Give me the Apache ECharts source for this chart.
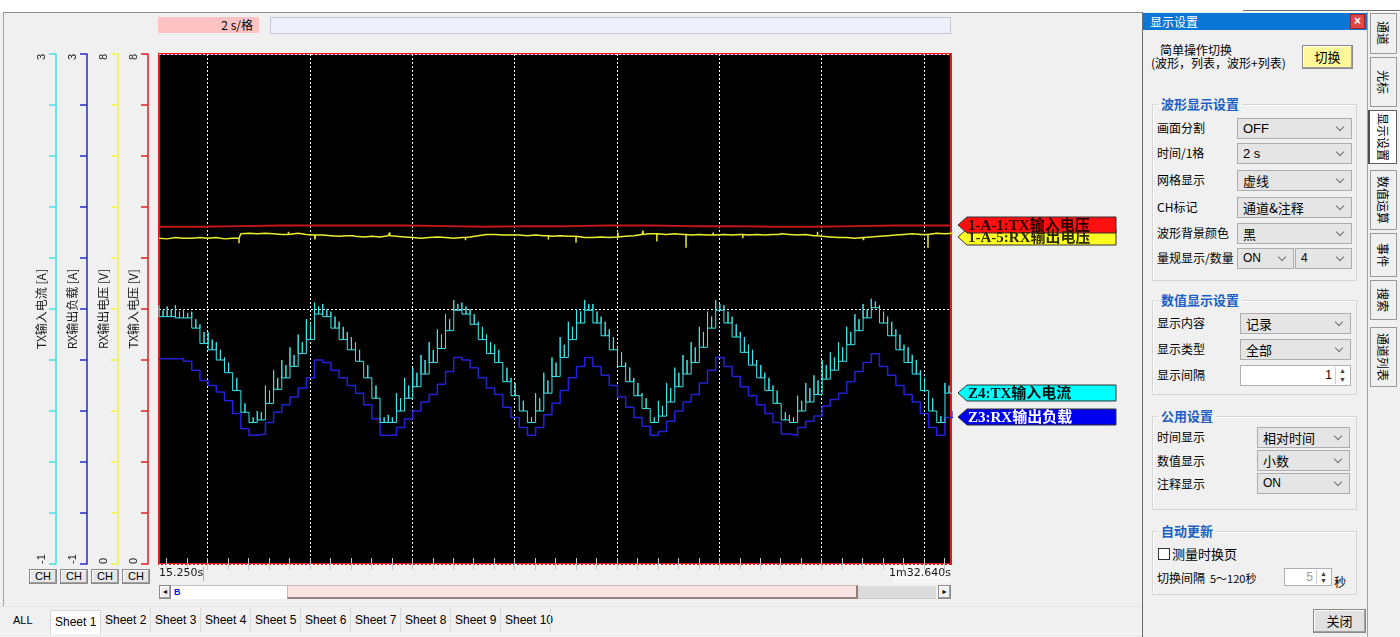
<!DOCTYPE html>
<html><head><meta charset="utf-8">
<script src="https://cdn.jsdelivr.net/npm/echarts@6/dist/echarts.min.js"></script>
<style>
html,body{margin:0;padding:0;width:1400px;height:637px;overflow:hidden;background:#f0f0f0;font-family:"Noto Sans CJK SC","Noto Sans",sans-serif;font-size:12px;color:#000;}
#ui{position:absolute;left:0;top:0;width:1400px;height:637px;}
#chart{position:absolute;left:0;top:0;width:1400px;height:637px;}
.lat{font-family:"Liberation Sans","DejaVu Sans",sans-serif;}
</style></head><body>
<div id="ui"></div>
<div id="chart"></div>
<script>
// ---------------- data ----------------
const timeRange = [15.25, 92.64];            // s, left and right edge of the record view
const gridTimes = [20, 30, 40, 50, 60, 70, 80, 90];
const minorTickTimes = [16,18,20,22,24,26,28,30,32,34,36,38,40,42,44,46,48,50,52,54,56,58,60,62,64,66,68,70,72,74,76,78,80,82,84,86,88,90,92];
const sampleStart = 15.25;                   // s
const sampleStep = 0.8;                      // s per recorded step

const channelNames = ['TX输入电压 [V]', 'RX输出电压 [V]', 'RX输出负载 [A]', 'TX输入电流 [A]'];
const channelTags = ['1-A-1:TX输入电压', '1-A-5:RX输出电压', 'Z3:RX输出负载', 'Z4:TX输入电流'];
const axisRanges = [[0, 8], [0, 8], [-1, 3], [-1, 3]];
const voltTicks = [0, 0.8, 1.6, 2.4, 3.2, 4, 4.8, 5.6, 6.4, 7.2, 8];
const ampTicks = [-1, -0.6, -0.2, 0.2, 0.6, 1, 1.4, 1.8, 2.2, 2.6, 3];

// TX input voltage [V]
const redTimes = [15.25,19.25,23.25,27.25,31.25,35.25,39.25,43.25,47.25,51.25,55.25,59.25,63.25,67.25,71.25,75.25,79.25,83.25,87.25,91.25,92.64];
const redVals  = [5.29,5.29,5.30,5.31,5.31,5.31,5.31,5.30,5.29,5.30,5.30,5.31,5.31,5.30,5.30,5.29,5.29,5.30,5.31,5.31,5.31];

// RX output voltage [V], one value per step
const yellowVals = [
 5.11,5.10,5.12,5.11,5.10,5.12,5.11,5.12,5.10,5.11,
 5.18,5.19,5.18,5.19,5.18,5.17,5.18,5.19,5.17,5.16,
 5.16,5.15,5.14,5.15,5.14,5.13,5.14,5.13,5.15,5.14,
 5.13,5.12,5.11,5.12,5.13,5.12,5.11,5.12,5.13,5.15,
 5.17,5.17,5.16,5.17,5.16,5.15,5.16,5.15,5.14,5.15,
 5.14,5.13,5.12,5.12,5.13,5.12,5.13,5.14,5.15,5.17,
 5.18,5.18,5.17,5.18,5.17,5.16,5.17,5.16,5.16,5.17,
 5.16,5.17,5.16,5.17,5.16,5.17,5.18,5.17,5.16,5.17,
 5.15,5.14,5.13,5.12,5.12,5.11,5.12,5.13,5.14,5.15,
 5.16,5.17,5.18,5.17,5.19,5.19,5.18,5.19];
// RX output voltage glitches [time s, value V]
const yellowSpikes = [[18.4,5.14],[23.07,5.03],[27.9,5.21],[30.5,5.09],[34.2,5.16],[37.8,5.20],[41.7,5.09],[45.2,5.08],[49.6,5.19],[53.3,5.09],[56.0,5.04],[57.4,5.09],[60.1,5.20],[62.55,5.23],[63.9,5.06],[66.75,4.96],[69.4,5.20],[72.3,5.11],[75.8,5.20],[79.6,5.21],[82.4,5.09],[84.1,5.08],[87.3,5.17],[90.39,4.96]];

// RX output load [A], one value per step
const blueVals = [
 0.61,0.61,0.61,0.59,0.52,0.44,0.40,0.35,0.28,0.18,
 0.06,0.01,0.02,0.11,0.19,0.25,0.31,0.38,0.46,0.60,
 0.58,0.52,0.46,0.40,0.34,0.25,0.14,0.01,0.01,0.07,
 0.14,0.20,0.27,0.33,0.41,0.51,0.62,0.60,0.54,0.46,
 0.38,0.33,0.23,0.15,0.07,0.01,0.07,0.17,0.26,0.36,
 0.46,0.55,0.62,0.55,0.48,0.40,0.31,0.23,0.15,0.08,
 0.01,0.04,0.12,0.20,0.27,0.33,0.42,0.52,0.62,0.55,
 0.47,0.39,0.32,0.25,0.18,0.11,0.02,0.01,0.07,0.12,
 0.16,0.24,0.29,0.34,0.43,0.51,0.58,0.65,0.55,0.48,
 0.40,0.33,0.27,0.18,0.07,0.01,0.15,0.20];

// TX input current [A], settled value per step
const cyanVals = [
 0.94,0.94,0.93,0.93,0.85,0.73,0.68,0.60,0.50,0.36,
 0.19,0.11,0.13,0.26,0.37,0.46,0.55,0.65,0.76,0.96,
 0.94,0.85,0.76,0.68,0.59,0.46,0.30,0.11,0.11,0.20,
 0.30,0.39,0.49,0.58,0.69,0.83,0.99,0.96,0.88,0.76,
 0.65,0.58,0.43,0.32,0.20,0.11,0.20,0.34,0.47,0.62,
 0.76,0.89,0.99,0.89,0.79,0.68,0.55,0.43,0.32,0.22,
 0.11,0.16,0.27,0.39,0.49,0.58,0.70,0.85,0.99,0.89,
 0.78,0.66,0.56,0.46,0.36,0.26,0.13,0.11,0.20,0.27,
 0.33,0.45,0.52,0.59,0.72,0.83,0.93,1.01,0.89,0.79,
 0.68,0.58,0.49,0.36,0.20,0.11,0.34,0.40];
// TX input current [A], inrush peak at the start of each step
const cyanSpikeTops = [
 1.03,1.02,1.03,1.00,0.98,0.88,0.82,0.74,0.62,0.50,
 0.30,0.18,0.20,0.40,0.52,0.60,0.70,0.80,0.92,1.05,
 1.04,0.98,0.90,0.82,0.74,0.60,0.44,0.18,0.17,0.34,
 0.46,0.54,0.64,0.74,0.84,0.96,1.07,1.05,1.00,0.90,
 0.80,0.72,0.58,0.46,0.32,0.17,0.34,0.50,0.62,0.78,
 0.90,1.00,1.07,1.04,0.94,0.84,0.70,0.58,0.46,0.34,
 0.17,0.28,0.42,0.54,0.64,0.74,0.86,0.98,1.07,1.03,
 0.94,0.82,0.72,0.60,0.50,0.40,0.22,0.17,0.32,0.42,
 0.48,0.60,0.66,0.74,0.86,0.96,1.04,1.08,1.03,0.94,
 0.84,0.72,0.64,0.52,0.34,0.18,0.42,0.48];
// TX input current [A], second, smaller peak in the middle of each step
const cyanMidTops = [
 0.99,1.00,0.98,0.97,0.92,0.82,0.76,0.68,0.58,0.46,
 0.26,0.15,0.19,0.36,0.46,0.56,0.64,0.74,0.88,1.02,
 1.00,0.94,0.86,0.78,0.68,0.56,0.40,0.15,0.15,0.30,
 0.40,0.50,0.60,0.68,0.80,0.92,1.04,1.02,0.96,0.86,
 0.74,0.68,0.54,0.42,0.28,0.15,0.30,0.44,0.58,0.72,
 0.86,0.98,1.04,0.98,0.90,0.78,0.66,0.54,0.42,0.30,
 0.15,0.24,0.38,0.50,0.60,0.70,0.82,0.94,1.04,0.98,
 0.88,0.78,0.68,0.56,0.46,0.36,0.19,0.15,0.28,0.38,
 0.44,0.56,0.62,0.70,0.82,0.92,1.00,1.06,0.98,0.90,
 0.80,0.70,0.60,0.46,0.30,0.16,0.40,0.46];

// ---------------- UI chrome ----------------
const ui = document.getElementById('ui');
function add(css, text, cls) {
  const d = document.createElement('div');
  d.style.cssText = 'position:absolute;white-space:nowrap;' + css;
  if (cls) d.className = cls;
  if (text != null) d.textContent = text;
  ui.appendChild(d);
  return d;
}
function label(x, yc, text, fs, extra) {
  fs = fs || 12;
  return add(`left:${x}px;top:${yc - fs * 0.75}px;font-size:${fs}px;line-height:${fs * 1.5}px;` + (extra || ''), text);
}
function chevron(parent, h) {
  const c = document.createElement('div');
  c.style.cssText = `position:absolute;right:8px;top:${Math.round(h / 2) - 6}px;width:5px;height:5px;border-right:1px solid #707070;border-bottom:1px solid #707070;transform:rotate(45deg);`;
  parent.appendChild(c);
}
function dropdown(x, y, w, h, text, fs, cls) {
  const d = add(`left:${x}px;top:${y}px;width:${w}px;height:${h}px;box-sizing:border-box;background:#e5e5e5;border:1px solid #adadad;font-size:${fs || 13}px;line-height:${h - 2}px;padding-left:5px;`, text, cls);
  chevron(d, h);
}
function group(x, y, w, h, title) {
  add(`left:${x}px;top:${y}px;width:${w}px;height:${h}px;box-sizing:border-box;border:1px solid #d5d5d5;box-shadow:inset 1px 1px 0 #fff;`);
  add(`left:${x + 6}px;top:${y - 10}px;padding:0 3px;background:#f0f0f0;color:#1b5fc6;font-weight:bold;font-size:13px;line-height:19px;`, title);
}
function button(x, y, w, h, text, bg, fs, cls) {
  return add(`left:${x}px;top:${y}px;width:${w}px;height:${h}px;box-sizing:border-box;background:${bg};border:1px solid #8a8a8a;box-shadow:inset -1px -1px 0 #a0a0a0, inset 1px 1px 0 #fff;text-align:center;font-size:${fs}px;line-height:${h - 2}px;`, text, cls);
}
function spin(x, y, w, h, text, col) {
  const d = add(`left:${x}px;top:${y}px;width:${w}px;height:${h}px;box-sizing:border-box;background:#fff;border:1px solid #b0b0b0;font-size:12px;line-height:${h - 2}px;text-align:right;padding-right:18px;color:${col};`, text, 'lat');
  const s = document.createElement('div');
  s.style.cssText = `position:absolute;right:1px;top:1px;width:13px;height:${h - 4}px;border-left:1px solid #d0d0d0;font-size:7px;line-height:${(h - 4) / 2}px;text-align:center;color:#404040;`;
  s.innerHTML = '▲<br>▼';
  d.appendChild(s);
}

// window frame
add('left:0;top:0;width:1400px;height:12px;background:#fff;');
add('left:3px;top:12px;width:1139px;height:1px;background:#8c8c8c;');
add('left:3px;top:12px;width:1px;height:594px;background:#a0a0a0;');
add('left:1243px;top:10px;width:157px;height:1px;background:#707070;');
// time/div indicator
add('left:158px;top:17px;width:101px;height:16px;box-sizing:border-box;background:#ffc3c3;text-align:right;padding-right:6px;font-size:12px;line-height:16px;', '2 s/格');
add('left:270px;top:17px;width:681px;height:17px;box-sizing:border-box;background:#eef0fb;border:1px solid #c4c6d4;');
// CH buttons
[29, 60, 91, 122].forEach(x => button(x, 569, 28, 15, 'CH', '#e6e6e6', 11, 'lat'));
// time row
add('left:203px;top:567px;width:1px;height:14px;background:#b0b0b0;');
add('left:893px;top:566px;width:58px;height:17px;background:#f6f6f6;');
// scroll bar
button(159, 585, 12, 14, '◂', '#f0f0f0', 8, 'lat');
add('left:171px;top:585px;width:116px;height:14px;background:#fff;border-top:1px solid #c0c0c0;box-sizing:border-box;');
add('left:174px;top:585px;font-size:9px;line-height:14px;color:#1010e0;font-weight:bold;', 'B', 'lat');
add('left:287px;top:585px;width:571px;height:14px;box-sizing:border-box;background:#fde4e4;border:1px solid #d2b4b4;border-right:2px solid #9a7a7a;border-bottom:2px solid #9a8080;');
add('left:858px;top:586px;width:78px;height:12px;background:#dcdcdc;border-bottom:1px solid #c8c8c8;');
button(938, 585, 13, 14, '▸', '#f0f0f0', 8, 'lat');
// sheet tabs
add('left:0;top:606px;width:1142px;height:1px;background:#e6e6e6;');
add('left:0;top:633px;width:1142px;height:1px;background:#fafafa;');
add('left:50px;top:610px;width:51px;height:24px;box-sizing:border-box;background:#fff;border:1px solid #d6d6d6;border-bottom:none;');
label(13, 620, 'ALL', 11, 'font-family:"Liberation Sans",sans-serif;');
label(55, 622, 'Sheet 1', 12, 'font-family:"Liberation Sans",sans-serif;');
for (let n = 2; n <= 10; n++) {
  label(105 + 50 * (n - 2), 620, 'Sheet ' + n, 12, 'font-family:"Liberation Sans",sans-serif;');
  add(`left:${150 + 50 * (n - 2)}px;top:608px;width:1px;height:24px;background:#d8d8d8;`);
}

// right panel
add('left:1142px;top:12px;width:226px;height:625px;box-sizing:border-box;background:#f0f0f0;border-left:1px solid #6e6e6e;border-right:1px solid #a0a0a0;');
add('left:1143px;top:13px;width:224px;height:17px;background:#0a76d6;');
add('left:1150px;top:13px;font-size:12px;line-height:17px;color:#fff;', '显示设置');
add('left:1350px;top:14px;width:15px;height:15px;box-sizing:border-box;background:#e04848;border:1px solid #a02020;color:#fff;font-size:12px;line-height:13px;text-align:center;font-weight:bold;', '×', 'lat');
label(1160, 50, '简单操作切换', 12);
label(1151, 63, '(波形，列表，波形+列表)', 12);
button(1302, 45, 51, 24, '切换', '#fff79a', 13);

group(1152, 104, 205, 177, '波形显示设置');
const waveRows = [['画面分割', 128, 'OFF'], ['时间/1格', 153, '2 s'], ['网格显示', 180, '虚线'], ['CH标记', 207, '通道&注释'], ['波形背景颜色', 233, '黑']];
waveRows.forEach(r => { label(1157, r[1], r[0], 12); dropdown(1237, r[1] - 10, 115, 21, r[2], 13, /^[A-Z0-9 ]/.test(r[2]) ? 'lat' : ''); });
label(1157, 258, '量规显示/数量', 12);
dropdown(1237, 248, 57, 21, 'ON', 12, 'lat');
dropdown(1295, 248, 57, 21, '4', 12, 'lat');

group(1152, 300, 205, 95, '数值显示设置');
label(1157, 323, '显示内容', 12); dropdown(1240, 313, 111, 21, '记录', 13);
label(1157, 349, '显示类型', 12); dropdown(1240, 339, 111, 21, '全部', 13);
label(1157, 375, '显示间隔', 12); spin(1240, 365, 111, 21, '1', '#000');

group(1152, 416, 205, 94, '公用设置');
label(1157, 437, '时间显示', 12); dropdown(1257, 427, 93, 21, '相对时间', 13);
label(1157, 461, '数值显示', 12); dropdown(1257, 450, 93, 21, '小数', 13);
label(1157, 484, '注释显示', 12); dropdown(1257, 473, 93, 21, 'ON', 12, 'lat');

group(1152, 531, 205, 64, '自动更新');
add('left:1158px;top:548px;width:12px;height:12px;box-sizing:border-box;background:#fff;border:1px solid #333;');
label(1172, 554, '测量时换页', 13);
label(1157, 578, '切换间隔', 12);
label(1210, 578, '5～120秒', 11);
spin(1284, 568, 48, 18, '5', '#9a9a9a');
label(1334, 582, '秒', 12);
button(1313, 609, 53, 24, '关闭', '#e1e1e1', 13);

// side tabs
const sideTabs = [['通道', 13, 41], ['光标', 57, 50], ['显示设置', 110, 54], ['数值运算', 170, 60], ['事件', 233, 44], ['搜索', 280, 40], ['通道列表', 327, 60]];
sideTabs.forEach((t, i) => {
  const sel = i === 2;
  add(`left:${sel ? 1368 : 1370}px;top:${t[1]}px;width:${sel ? 29 : 27}px;height:${t[2]}px;box-sizing:border-box;background:${sel ? '#fff' : '#f0f0f0'};border:1px solid ${sel ? '#606060' : '#9a9a9a'};${sel ? 'border-left:2px solid #505050;' : ''}writing-mode:vertical-rl;text-orientation:sideways;font-size:12px;line-height:25px;text-align:center;`, t[0]);
});

// ---------------- chart ----------------
const chart = echarts.init(document.getElementById('chart'), null, { renderer: 'canvas', width: 1400, height: 637 });
const sampleTimes = blueVals.map((_, k) => +(sampleStart + k * sampleStep).toFixed(2));

// red
const redData = redTimes.map((t, i) => [t, redVals[i]]);
// yellow with glitches inserted at their times
const yellowData = [];
{
  let si = 0;
  for (let k = 0; k < yellowVals.length; k++) {
    const t = sampleTimes[k];
    while (si < yellowSpikes.length && yellowSpikes[si][0] < t) {
      const base = yellowVals[Math.max(0, k - 1)];
      yellowData.push([yellowSpikes[si][0], base], [yellowSpikes[si][0], yellowSpikes[si][1]], [yellowSpikes[si][0], base]);
      si++;
    }
    yellowData.push([t, yellowVals[k]]);
  }
}
// blue staircase
const blueData = sampleTimes.map((t, k) => [t, blueVals[k]]);
// cyan staircase with inrush spikes (start of step and mid-step)
const cyanData = [];
for (let k = 0; k < cyanVals.length; k++) {
  const t = sampleTimes[k];
  const tm = +(t + sampleStep / 2).toFixed(2);
  if (k > 0) cyanData.push([t, cyanVals[k - 1]]);
  cyanData.push([t, cyanSpikeTops[k]]);
  cyanData.push([t, cyanVals[k]]);
  cyanData.push([tm, cyanVals[k]]);
  cyanData.push([tm, cyanMidTops[k]]);
  cyanData.push([tm, cyanVals[k]]);
}

const colors = ['#c81616', '#eeee30', '#2222d8', '#3ee8ee'];
const axisLineColors = ['#e41e1e', '#f4f43a', '#2a2ac8', '#46e0e6'];
const offsets = [11, 41, 72, 103];

function fmtTime(v) {
  if (v >= 60) return Math.floor(v / 60) + 'm' + (v - 60 * Math.floor(v / 60)).toFixed(3) + 's';
  return v.toFixed(3) + 's';
}

const yAxes = channelNames.map((name, i) => ({
  type: 'value', position: 'left', offset: offsets[i],
  min: axisRanges[i][0], max: axisRanges[i][1],
  name: name, nameLocation: 'middle', nameRotate: 90, nameGap: 9, nameMoveOverlap: false,
  nameTextStyle: { color: '#1a1a1a', fontSize: 12, fontFamily: '"Noto Sans CJK SC", sans-serif' },
  axisLine: { show: true, onZero: false, lineStyle: { color: axisLineColors[i], width: 1.5 } },
  axisTick: { show: true, inside: false, length: 7, customValues: i < 2 ? voltTicks : ampTicks, lineStyle: { color: axisLineColors[i], width: 1.5 } },
  axisLabel: { show: true, customValues: axisRanges[i], rotate: 90, margin: 9, color: '#1a1a1a', fontSize: 11,
    fontFamily: '"Liberation Sans", sans-serif', alignMinLabel: 'left', alignMaxLabel: 'right' },
  splitLine: { show: false }
}));
yAxes.push({
  type: 'value', position: 'left', offset: 0, min: 0, max: 10, interval: 5,
  axisLine: { show: false }, axisTick: { show: false }, axisLabel: { show: false },
  splitLine: { show: true, lineStyle: { color: '#ffffff', type: [2, 2], width: 1 } }
});

const option = {
  animation: false,
  backgroundColor: 'transparent',
  grid: { left: 159, top: 54, width: 792, height: 510, show: true, backgroundColor: '#000', borderColor: '#ee1414', borderWidth: 2, z: 0 },
  xAxis: [
    { type: 'value', min: timeRange[0], max: timeRange[1], position: 'bottom',
      axisLine: { show: false },
      axisTick: { show: true, inside: true, length: 6, customValues: minorTickTimes, lineStyle: { color: '#c8c8c8', width: 1 } },
      axisLabel: { show: true, customValues: timeRange, formatter: fmtTime, alignMinLabel: 'left', alignMaxLabel: 'right', margin: 4, color: '#1a1a1a', fontSize: 11, fontFamily: '"DejaVu Sans", sans-serif' },
      splitLine: { show: false } },
    { type: 'value', min: timeRange[0], max: timeRange[1], position: 'top',
      axisLine: { show: false },
      axisTick: { show: true, inside: true, length: 6, customValues: minorTickTimes, lineStyle: { color: '#c8c8c8', width: 1 } },
      axisLabel: { show: false }, splitLine: { show: false } },
    { type: 'value', min: timeRange[0], max: timeRange[1], position: 'bottom', splitNumber: 8,
      axisLine: { show: false }, axisTick: { show: false, customValues: gridTimes }, axisLabel: { show: false },
      splitLine: { show: true, lineStyle: { color: '#ffffff', type: [2, 2], width: 1 } } }
  ],
  yAxis: yAxes,
  series: [
    { name: channelNames[0], type: 'line', xAxisIndex: 0, yAxisIndex: 0, data: redData, symbol: 'none', silent: true, z: 3,
      lineStyle: { color: colors[0], width: 2 } },
    { name: channelNames[1], type: 'line', xAxisIndex: 0, yAxisIndex: 1, data: yellowData, symbol: 'none', silent: true, z: 3,
      lineStyle: { color: colors[1], width: 1.5 } },
    { name: channelNames[2], type: 'line', xAxisIndex: 0, yAxisIndex: 2, data: blueData, step: 'end', symbol: 'none', silent: true, z: 3,
      lineStyle: { color: colors[2], width: 1.5 } },
    { name: channelNames[3], type: 'line', xAxisIndex: 0, yAxisIndex: 3, data: cyanData, symbol: 'none', silent: true, z: 4,
      lineStyle: { color: colors[3], width: 1 } }
  ]
};
chart.setOption(option);

// channel tags at the right edge, pointing at each trace's last visible value
function valueAt(data, t) {
  let v = data[0][1];
  for (const p of data) { if (p[0] <= t) v = p[1]; }
  return v;
}
const tEnd = timeRange[1];
const endVals = [valueAt(redData, tEnd), valueAt(yellowData, tEnd), valueAt(blueData, tEnd), valueAt(cyanData, tEnd)];
const tipX = chart.convertToPixel({ xAxisIndex: 0 }, tEnd) + 7;
let ys = endVals.map((v, i) => chart.convertToPixel({ yAxisIndex: i }, v));
if (ys[1] - ys[0] < 12) ys[1] = ys[0] + 12;
if (ys[2] - ys[3] < 21) ys[3] = ys[2] - 21;
const tagFill = ['#ff1010', '#ffff20', '#0000f0', '#00ffff'];
const tagText = ['#2a0000', '#2a2a00', '#ffffff', '#001010'];
const drawOrder = [1, 0, 3, 2];
const graphic = [];
drawOrder.forEach(i => {
  const y = Math.round(ys[i]);
  graphic.push({ type: 'polygon', silent: true, z: 10,
    shape: { points: [[tipX, y], [tipX + 9, y - 8], [tipX + 158, y - 8], [tipX + 158, y + 8], [tipX + 9, y + 8]] },
    style: { fill: tagFill[i], stroke: '#303030', lineWidth: 1 } });
  graphic.push({ type: 'text', silent: true, z: 11, x: tipX + 10, y: y + 1,
    style: { text: channelTags[i], fill: tagText[i], font: 'bold 15px "Liberation Serif", "Noto Sans CJK SC", serif', verticalAlign: 'middle' } });
});
chart.setOption({ graphic: graphic });
</script>
</body></html>
